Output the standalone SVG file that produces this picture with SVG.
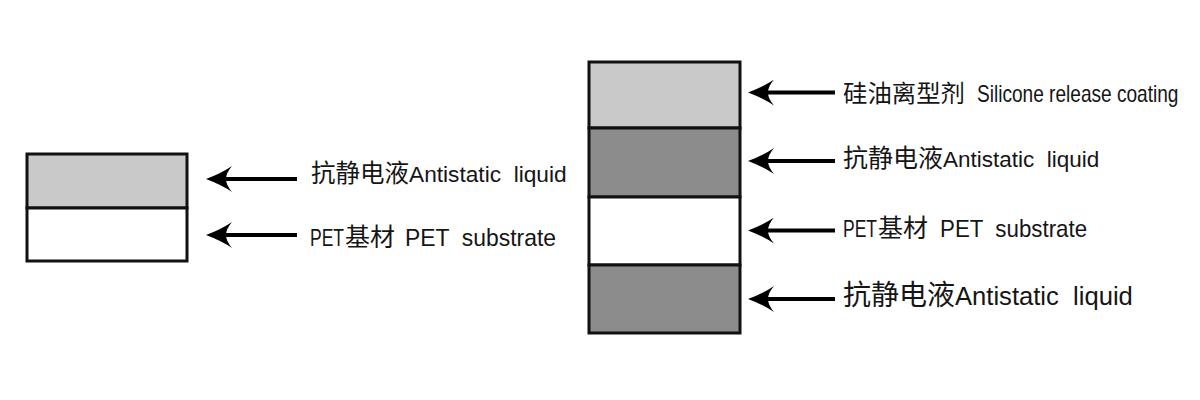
<svg xmlns="http://www.w3.org/2000/svg" width="1200" height="400" viewBox="0 0 1200 400">
  <style>
    .layer { stroke: #111; stroke-width: 3; }
    .light { fill: #c9c9c9; }
    .dark { fill: #8c8c8c; }
    .white { fill: #ffffff; }
    .conn { stroke: #000; stroke-width: 4; fill: none; marker-end: url(#head); }
    .lbl { font-family: "Liberation Sans", "Noto Sans CJK SC", sans-serif; fill: #151515; white-space: pre; }
    .cjk { font-family: "Noto Sans CJK SC", sans-serif; }
  </style>
  <defs>
    <marker id="head" viewBox="0 0 28 26" refX="12" refY="13" markerWidth="28" markerHeight="26" markerUnits="userSpaceOnUse" orient="auto">
      <path d="M28,13 Q12,7 2,0 Q8,7 8,13 Q8,19 2,26 Q12,19 28,13 Z" fill="#000"/>
    </marker>
  </defs>
  <rect width="1200" height="400" fill="#ffffff"/>

  <!-- left stack -->
  <g id="left-antistatic">
    <rect class="layer light" x="27" y="154" width="160" height="54"/>
  </g>
  <g id="left-pet">
    <rect class="layer white" x="27" y="208" width="160" height="53"/>
  </g>

  <!-- right stack -->
  <g id="right-silicone">
    <rect class="layer light" x="589" y="62" width="151" height="66"/>
  </g>
  <g id="right-antistatic-top">
    <rect class="layer dark" x="589" y="128" width="151" height="69"/>
  </g>
  <g id="right-pet">
    <rect class="layer white" x="589" y="197" width="151" height="68"/>
  </g>
  <g id="right-antistatic-bottom">
    <rect class="layer dark" x="589" y="265" width="151" height="68"/>
  </g>

  <!-- connectors -->
  <g id="connectors">
    <line class="conn" x1="297" y1="179" x2="222" y2="179"/>
    <line class="conn" x1="297" y1="235" x2="222" y2="235"/>
    <line class="conn" x1="835" y1="92.5" x2="764" y2="92.5"/>
    <line class="conn" x1="835" y1="161" x2="764" y2="161"/>
    <line class="conn" x1="835" y1="230.5" x2="764" y2="230.5"/>
    <line class="conn" x1="835" y1="299" x2="764" y2="299"/>
  </g>

  <!-- labels -->
  <g id="label-left-antistatic">
    <text class="lbl" x="311" y="182"><tspan class="cjk" font-size="24.5">抗静电液</tspan><tspan font-size="22.7">Antistatic  liquid</tspan></text>
  </g>
  <g id="label-left-pet">
    <text class="lbl" font-size="24" transform="translate(310,246) scale(0.73,1)">PET</text>
    <text class="lbl cjk" x="345" y="246" font-size="25">基材</text>
    <text class="lbl" font-size="24" transform="translate(405,246) scale(0.955,1)">PET  substrate</text>
  </g>
  <g id="label-right-silicone">
    <text class="lbl cjk" x="843" y="102" font-size="24.4">硅油离型剂</text>
    <text class="lbl" font-size="24" transform="translate(977,102) scale(0.795,1)">Silicone release coating</text>
  </g>
  <g id="label-right-antistatic-top">
    <text class="lbl" x="843" y="167"><tspan class="cjk" font-size="25">抗静电液</tspan><tspan font-size="22.5">Antistatic  liquid</tspan></text>
  </g>
  <g id="label-right-pet">
    <text class="lbl" font-size="24" transform="translate(843,237) scale(0.73,1)">PET</text>
    <text class="lbl cjk" x="878" y="237" font-size="25">基材</text>
    <text class="lbl" font-size="24" transform="translate(940,237) scale(0.93,1)">PET  substrate</text>
  </g>
  <g id="label-right-antistatic-bottom">
    <text class="lbl" x="843" y="305"><tspan class="cjk" font-size="28">抗静电液</tspan><tspan font-size="25.6">Antistatic  liquid</tspan></text>
  </g>
</svg>
